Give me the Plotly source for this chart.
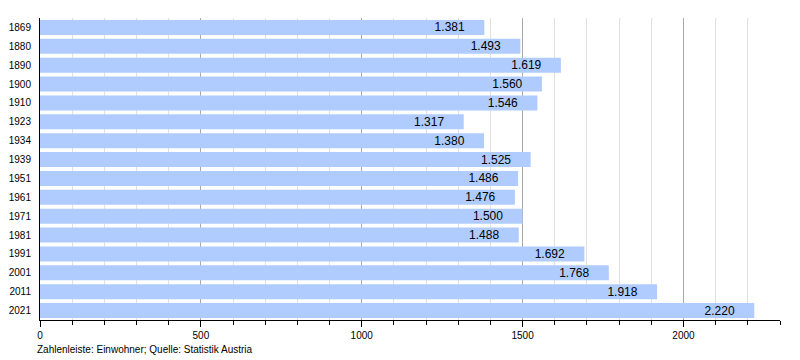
import plotly.graph_objects as go

years = ["1869", "1880", "1890", "1900", "1910", "1923", "1934", "1939",
         "1951", "1961", "1971", "1981", "1991", "2001", "2011", "2021"]
population = [1381, 1493, 1619, 1560, 1546, 1317, 1380, 1525,
              1486, 1476, 1500, 1488, 1692, 1768, 1918, 2220]

pad = "\u00a0" * 5

fig = go.Figure(go.Bar(
    x=population, y=years, orientation="h",
    marker=dict(color="#b0ccff", line=dict(width=0)),
    texttemplate="%{x:,}" + pad, textposition="inside", insidetextanchor="end",
    constraintext="none", cliponaxis=False,
    textfont=dict(color="#000000", size=12, family="Liberation Sans"),
    hoverinfo="skip",
))

fig.update_layout(
    width=792, height=352,
    margin=dict(l=32, r=20, t=10, b=40, autoexpand=False),
    paper_bgcolor="white", plot_bgcolor="white",
    separators=",.",
    bargap=0.2,
    showlegend=False,
    uniformtext=dict(mode=False),
    font=dict(family="Liberation Sans", size=11, color="#000"),
    xaxis=dict(
        range=[0, 2300], dtick=500, tick0=0, automargin=False,
        showgrid=True, gridcolor="#a8a8a8", gridwidth=1,
        ticks="outside", ticklen=6, tickcolor="#000",
        showline=True, linecolor="#000", linewidth=1,
        zeroline=False,
        tickfont=dict(size=10),
        minor=dict(dtick=100, showgrid=True, gridcolor="#e0e0e0",
                   ticks="outside", ticklen=4, tickcolor="#000"),
    ),
    yaxis=dict(
        autorange="reversed", type="category", automargin=False,
        showline=True, linecolor="#000", linewidth=1,
        showgrid=False, ticks="", ticklabelstandoff=6,
        tickfont=dict(size=10),
    ),
    annotations=[dict(
        text="Zahlenleiste: Einwohner; Quelle: Statistik Austria",
        xref="paper", yref="paper", x=-5/740, y=-29/302,
        xanchor="left", yanchor="middle", showarrow=False,
        font=dict(size=10, color="#000"),
    )],
)

fig.write_html("out.html")
